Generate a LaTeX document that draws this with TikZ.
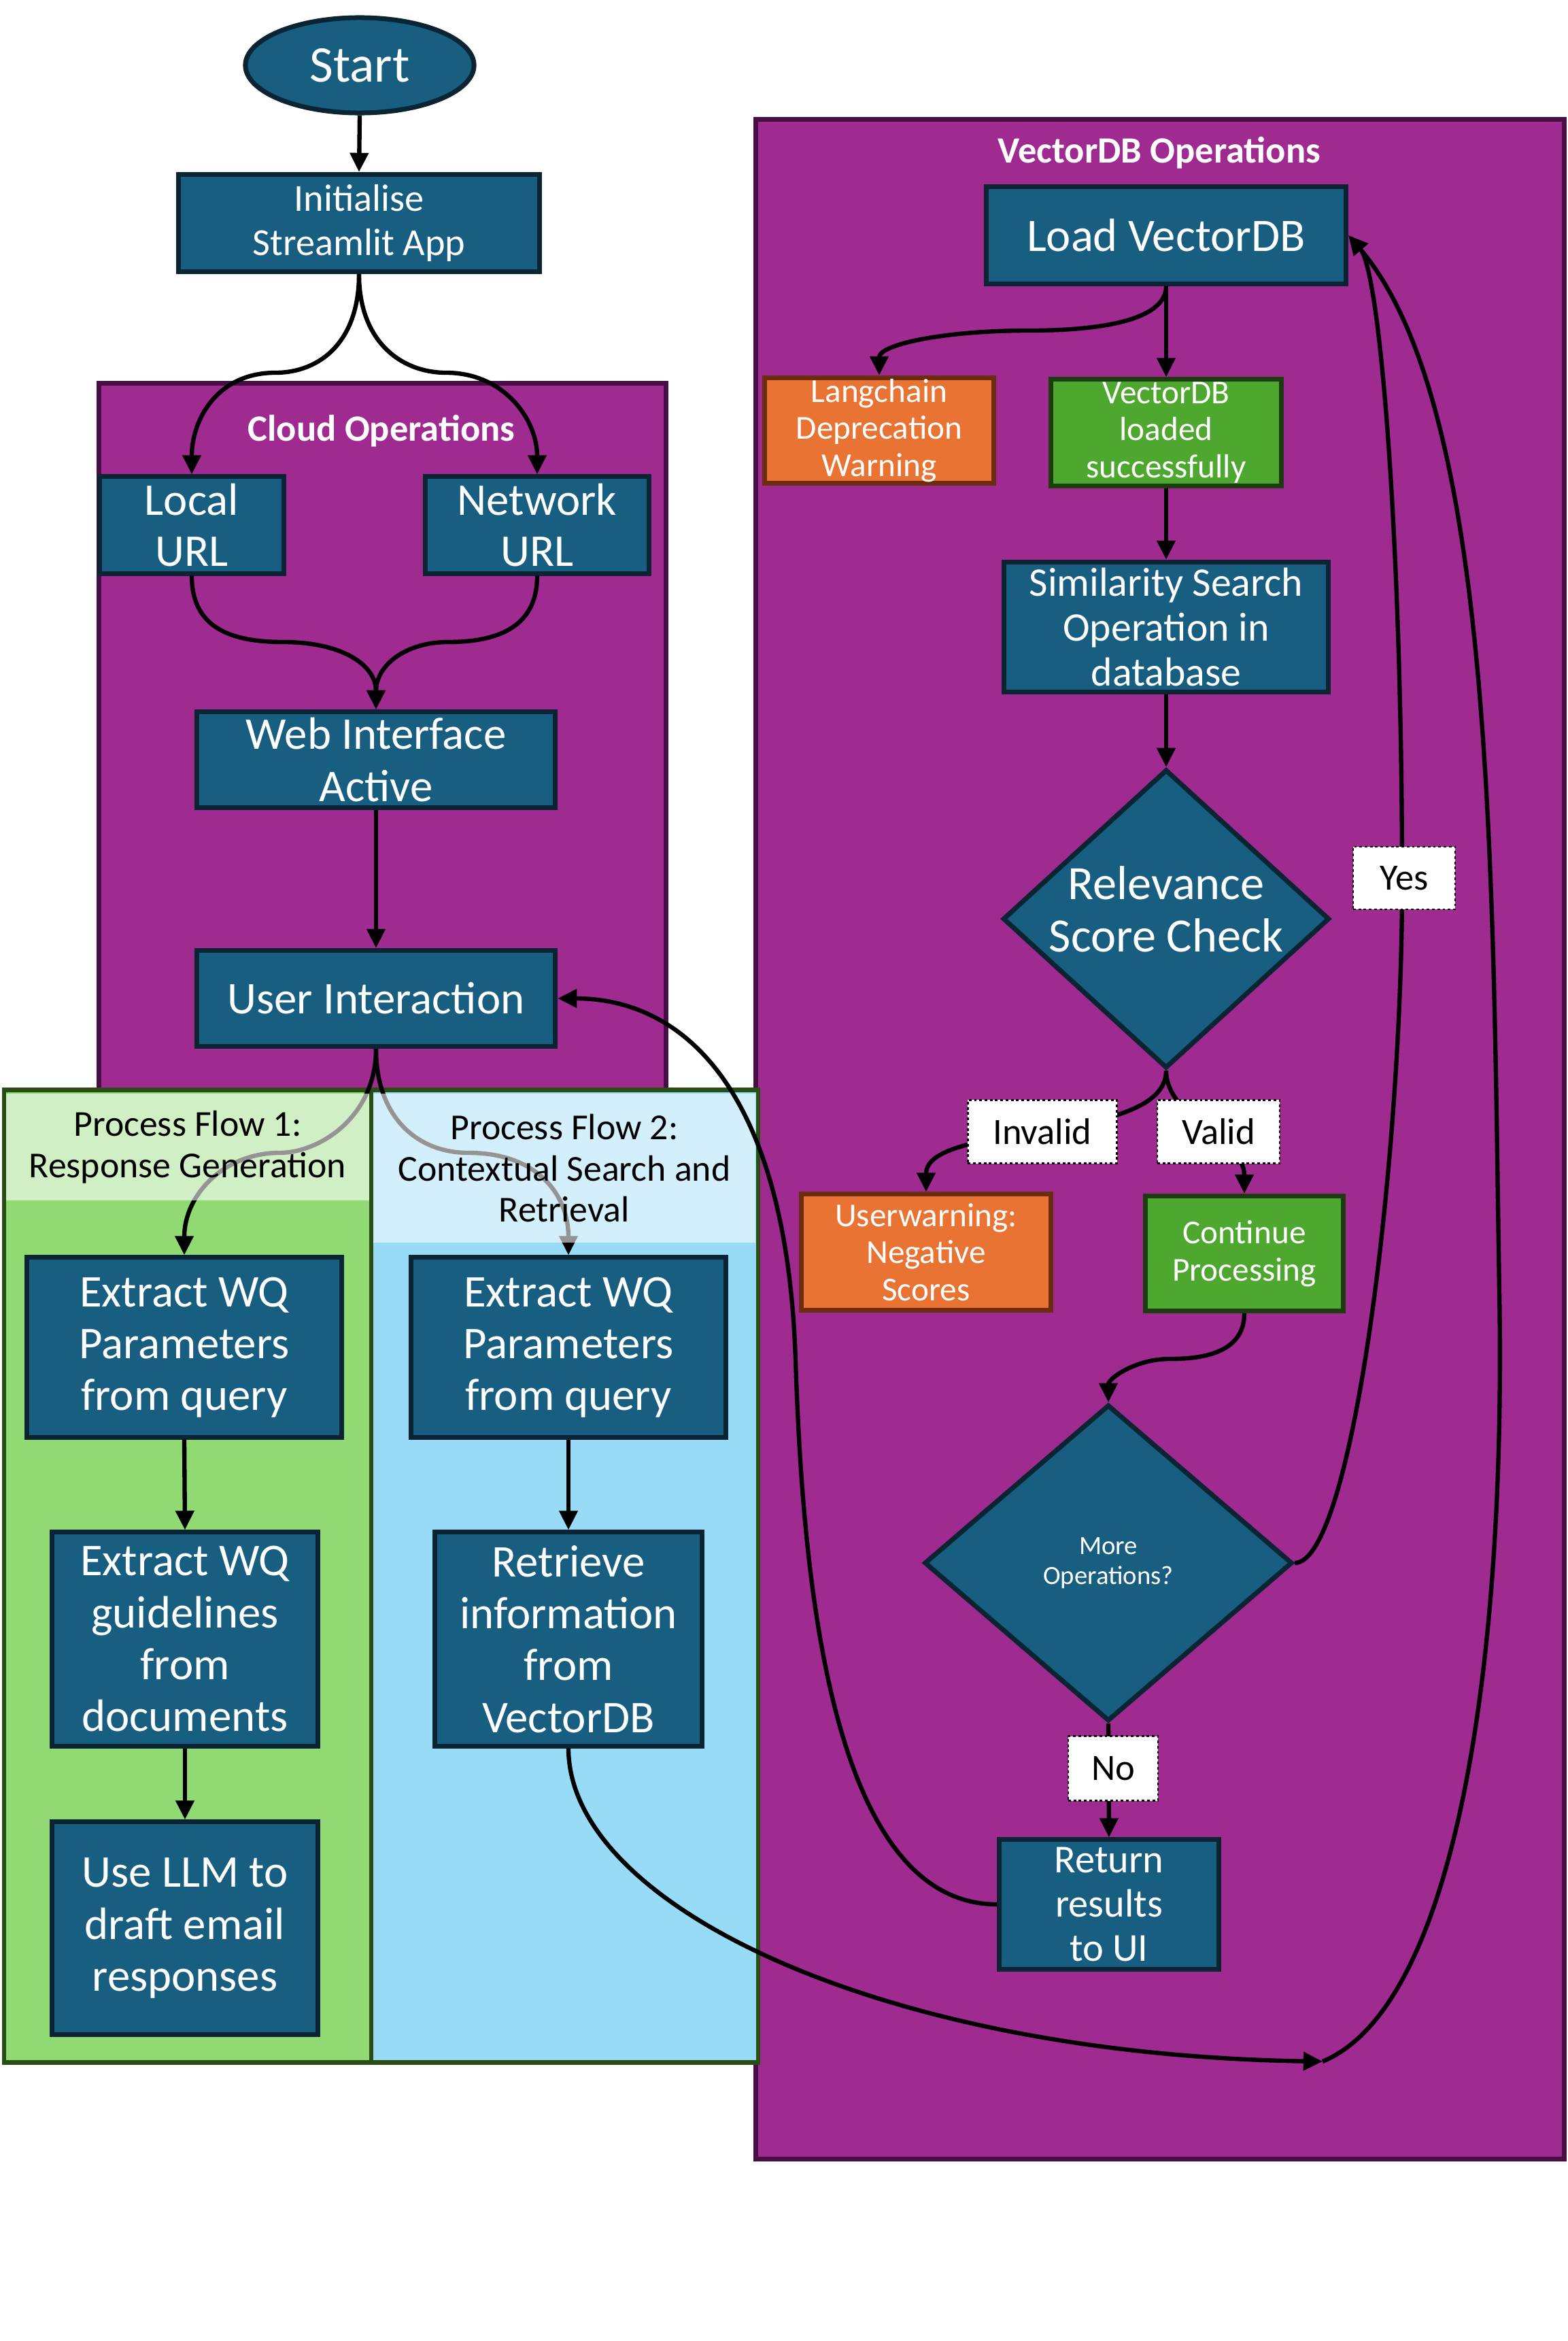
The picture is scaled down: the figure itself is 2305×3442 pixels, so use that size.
\documentclass[tikz,border=0pt]{standalone}
\usepackage{fontspec}
\setmainfont{Carlito}
\usetikzlibrary{shapes.geometric,arrows.meta}

\definecolor{boxfill}{RGB}{23,94,128}
\definecolor{boxline}{RGB}{10,36,52}
\definecolor{purp}{RGB}{160,43,144}
\definecolor{purpline}{RGB}{70,14,68}
\definecolor{lanegreen}{RGB}{144,217,115}
\definecolor{laneblue}{RGB}{152,219,246}
\definecolor{laneline}{RGB}{40,78,22}
\definecolor{orangefill}{RGB}{233,115,51}
\definecolor{orangeline}{RGB}{108,44,16}
\definecolor{greenfill}{RGB}{78,167,46}
\definecolor{greenline}{RGB}{28,60,16}

\newcommand{\fsz}[2]{\fontsize{#1}{#2}\selectfont}

\begin{document}
\begin{tikzpicture}[x=0.01cm,y=-0.01cm,
  every node/.style={inner sep=0pt},
  proc/.style={draw=boxline, fill=boxfill, line width=2pt, text=white, align=center},
  warnbox/.style={draw=orangeline, fill=orangefill, line width=2pt, text=white, align=center},
  okbox/.style={draw=greenline, fill=greenfill, line width=2pt, text=white, align=center},
  decision/.style={diamond, draw=boxline, fill=boxfill, line width=2pt},
  lbl/.style={draw=black, fill=white, line width=0.8pt, dash pattern=on 1.1pt off 1.1pt, text=black, align=center},
  region/.style={draw=purpline, fill=purp, line width=2pt},
  lane/.style={draw=laneline, line width=1.8pt},
  header/.style={fill=white, fill opacity=0.58, text opacity=1, text=black, align=center},
  regiontitle/.style={text=white, font=\fsz{15.5}{17}\bfseries},
  conn/.style={line width=1.8pt, -{Triangle[length=8pt,width=7.5pt]}}
]
\useasboundingbox (0,0) rectangle (2305,3442);
\fill[white] (0,0) rectangle (2305,3442);

% ---------- regions ----------
\node[region, minimum width=8.33cm, minimum height=10.56cm] (cloudbox) at (562.5,1092) {};
\node[region, minimum width=11.88cm, minimum height=29.98cm] (vdbbox) at (1706,1675) {};
\node[lane, fill=lanegreen, minimum width=5.40cm, minimum height=14.29cm] (lane1) at (276,2317.5) {};
\node[lane, fill=laneblue, minimum width=5.69cm, minimum height=14.29cm] (lane2) at (830.5,2317.5) {};
\node[regiontitle] (cloudtitle) at (561,634) {Cloud Operations};
\node[regiontitle] (vdbtitle) at (1705,225) {VectorDB Operations};

% ---------- left column ----------
\node[ellipse, draw=boxline, fill=boxfill, line width=2pt, text=white,
      minimum width=3.36cm, minimum height=1.40cm, font=\fsz{21.5}{24}] (start) at (529,96) {Start};
\node[proc, minimum width=5.30cm, minimum height=1.43cm, font=\fsz{16}{18.7}] (init) at (528,328) {Initialise\\Streamlit App};
\node[proc, minimum width=2.70cm, minimum height=1.42cm, font=\fsz{19}{21.3}] (local) at (282,772) {Local\\URL};
\node[proc, minimum width=3.29cm, minimum height=1.42cm, font=\fsz{19}{21.3}] (network) at (790,772) {Network\\URL};
\node[proc, minimum width=5.27cm, minimum height=1.41cm, font=\fsz{19}{22}] (web) at (553,1117) {Web Interface\\Active};
\node[proc, minimum width=5.27cm, minimum height=1.41cm, font=\fsz{19}{22}] (user) at (553,1468) {User Interaction};

\node[proc, minimum width=4.62cm, minimum height=2.64cm, font=\fsz{19}{21.7}] (ex1) at (271,1981) {Extract WQ\\Parameters\\from query};
\node[proc, minimum width=4.62cm, minimum height=2.64cm, font=\fsz{19}{21.7}] (ex2) at (836,1981) {Extract WQ\\Parameters\\from query};
\node[proc, minimum width=3.91cm, minimum height=3.14cm, font=\fsz{19}{21.7}] (guide) at (272,2410) {Extract WQ\\guidelines\\from\\documents};
\node[proc, minimum width=3.93cm, minimum height=3.14cm, font=\fsz{19}{21.7}] (retr) at (836,2410) {Retrieve\\information\\from\\VectorDB};
\node[proc, minimum width=3.91cm, minimum height=3.12cm, font=\fsz{19}{21.7}] (llm) at (272,2835) {Use LLM to\\draft email\\responses};

% ---------- right column ----------
\node[proc, minimum width=5.29cm, minimum height=1.42cm, font=\fsz{19.5}{22}] (load) at (1715,346) {Load VectorDB};
\node[warnbox, minimum width=3.36cm, minimum height=1.55cm, font=\fsz{14}{15.5}] (lang) at (1293,633) {Langchain\\Deprecation\\Warning};
\node[okbox, minimum width=3.38cm, minimum height=1.56cm, font=\fsz{14}{15.5}] (loaded) at (1715,636) {VectorDB\\loaded\\successfully};
\node[proc, minimum width=4.76cm, minimum height=1.91cm, font=\fsz{17}{18.7}] (sim) at (1715,922) {Similarity Search\\Operation in\\database};
\node[decision, minimum width=4.80cm, minimum height=4.39cm,
      label={[text=white, align=center, font=\fsz{20}{22}, yshift=4pt]center:{Relevance\\Score Check}}] (rel) at (1715,1351) {};
\node[warnbox, minimum width=3.67cm, minimum height=1.70cm, font=\fsz{14}{15.5}] (uwarn) at (1362,1841) {Userwarning:\\Negative\\Scores};
\node[okbox, minimum width=2.91cm, minimum height=1.69cm, font=\fsz{14}{15.5}] (cont) at (1830,1843) {Continue\\Processing};
\node[decision, minimum width=5.41cm, minimum height=4.65cm,
      label={[text=white, align=center, font=\fsz{11}{12.6}]center:{More\\Operations?}}] (more) at (1630,2298) {};
\node[proc, minimum width=3.22cm, minimum height=1.90cm, font=\fsz{16.6}{18.4}] (ret) at (1631,2800) {Return\\results\\to UI};
\coordinate (junc) at (1945,3031);

% ---------- arrows under the lane headers ----------
\draw[conn] (user.south) .. controls +(0,100) and +(59,0) .. (411,1695)
            .. controls +(-81,0) and +(0,-89) .. (ex1.north);
\draw[conn] (user.south) .. controls +(0,100) and +(-76,0) .. (689,1695)
            .. controls +(101,0) and +(0,-89) .. (ex2.north);

% ---------- lane headers ----------
\node[header, minimum width=5.34cm, minimum height=1.57cm, font=\fsz{15.3}{17.3}] (head1) at (276,1686.5) {Process Flow 1:\\Response Generation};
\node[header, minimum width=5.62cm, minimum height=2.19cm, font=\fsz{15.3}{17.3}] (head2) at (830,1717.5) {Process Flow 2:\\Contextual Search and\\Retrieval};

% ---------- other connectors ----------
\draw[conn] (start.south) -- (init.north);
\draw[conn] (init.south) .. controls +(0,100) and +(65,0) .. (405,548)
            .. controls +(-85,0) and +(0,-81) .. (local.north);
\draw[conn] (init.south) .. controls +(0,100) and +(-65,0) .. (656,548)
            .. controls +(85,0) and +(0,-81) .. (network.north);
\draw[conn] (local.south) .. controls +(0,77) and +(-77,0) .. (417,944)
            .. controls +(83,0) and +(0,-67) .. (web.north);
\draw[conn] (network.south) .. controls +(0,77) and +(72,0) .. (658,944)
            .. controls +(-58,0) and +(0,-67) .. (web.north);
\draw[conn] (web.south) -- (user.north);
\draw[conn] (ex1.south) -- (guide.north);
\draw[conn] (guide.south) -- (llm.north);
\draw[conn] (ex2.south) -- (retr.north);

\draw[conn] (retr.south) .. controls +(0,230) and +(-650,-10) .. (junc);
\draw[conn] (junc) .. controls (2140,2950) and (2215,2450) .. (2205,1900)
            .. controls (2195,1300) and (2200,600) .. (load.east);
\draw[conn] (more.east) .. controls (1990,2298) and (2062,1700) .. (2062,1300)
            .. controls (2062,800) and (2030,400) .. (load.east);

\draw[conn] (load.south) -- (loaded.north);
\draw[conn] (load.south) .. controls +(0,55) and +(85,0) .. (1515,486)
            .. controls +(-130,0) and +(0,-45) .. (lang.north);
\draw[conn] (loaded.south) -- (sim.north);
\draw[conn] (sim.south) -- (rel.north);
\draw[conn] (rel.south) .. controls +(0,110) and +(0,-105) .. (uwarn.north);
\draw[conn] (rel.south) .. controls +(0,70) and +(0,-80) .. (cont.north);
\draw[conn] (cont.south) .. controls +(0,62) and +(40,0) .. (1720,1998)
            .. controls +(-50,0) and +(0,-35) .. (more.north);
\draw[conn] (more.south) -- (ret.north);
\draw[conn] (ret.west) .. controls +(-250,0) and +(10,300) .. (1170,2000)
            .. controls +(-13,-400) and +(183,0) .. (user.east);

% ---------- edge labels ----------
\node[lbl, minimum width=1.50cm, minimum height=0.92cm, font=\fsz{15.5}{17}] (yes) at (2065,1291) {Yes};
\node[lbl, minimum width=2.19cm, minimum height=0.93cm, font=\fsz{15.5}{17}] (invalid) at (1533,1664) {Invalid};
\node[lbl, minimum width=1.80cm, minimum height=0.93cm, font=\fsz{15.5}{17}] (valid) at (1792,1664) {Valid};
\node[lbl, minimum width=1.32cm, minimum height=0.95cm, font=\fsz{15.5}{17}] (no) at (1637,2600) {No};
\end{tikzpicture}
\end{document}
